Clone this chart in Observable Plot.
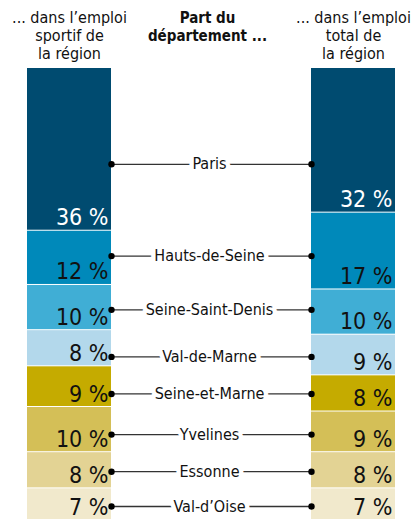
<!DOCTYPE html>
<html><head><meta charset="utf-8">
<script src="https://cdn.jsdelivr.net/npm/d3@7"></script>
<script src="https://cdn.jsdelivr.net/npm/@observablehq/plot@0.6"></script>
<style>html,body{margin:0;padding:0;background:#fff}#chart svg{display:block}</style>
</head><body><div id="chart"></div>
<script>
const departements = ["Paris","Hauts-de-Seine","Seine-Saint-Denis","Val-de-Marne","Seine-et-Marne","Yvelines","Essonne","Val-d’Oise"];
const emploiSportif = [36,12,10,8,9,10,8,7];
const emploiTotal = [32,17,10,9,8,9,8,7];
// position of each department label, in % of the stacked height
const labelPosition = [21.2,41.5,53.4,63.8,72,81,89.2,96.9];
const colonnes = ["sportif","total"];
const enTetes = ["... dans l’emploi\nsportif de\nla région", "... dans l’emploi\ntotal de\nla région"];
const titreCentre = "Part du\ndépartement ...";
const couleurs = ["#004b70","#0089ba","#40aed5","#b3d8eb","#c5ab00","#d4bf57","#e3d394","#f1e9cc"];

const rows = [];
[["sportif", emploiSportif], ["total", emploiTotal]].forEach(([col, vals]) => {
  let cum = 0;
  vals.forEach((v, i) => {
    rows.push({col, dept: departements[i], value: v, y1: cum, y2: cum + v});
    cum += v;
  });
});
const labels = departements.map((d, i) => ({dept: d, pos: labelPosition[i]}));

const font = "'Liberation Sans Narrow','Arial Narrow','DejaVu Sans Condensed',sans-serif";

const chart = Plot.plot({
  width: 414,
  height: 520,
  margin: 0,
  style: {fontFamily: font, background: "white"},
  x: {type: "band", domain: colonnes, range: [26, 395], paddingInner: 0.70526, paddingOuter: 0, axis: null},
  y: {domain: [0, 100], range: [68, 520], axis: null},
  color: {domain: departements, range: couleurs},
  marks: [
    Plot.barY(rows, {x: "col", y1: "y1", y2: "y2", fill: "dept", insetBottom: 1}),
    Plot.text(rows, {x: "col", y: "y2", text: d => `${d.value} %`, textAnchor: "end", lineAnchor: "bottom",
      dx: 39, dy: -6, fontSize: 23, fill: d => d.dept === "Paris" ? "white" : "#111"}),
    Plot.ruleY(labels, {y: "pos", x1: () => "sportif", x2: () => "total", insetLeft: 84, insetRight: 84,
      stroke: "#333", strokeWidth: 1.3}),
    Plot.dot(labels, {x: () => "sportif", y: "pos", dx: 42, r: 3.2, fill: "#000"}),
    Plot.dot(labels, {x: () => "total", y: "pos", dx: -42, r: 3.2, fill: "#000"}),
    Plot.text(labels, {y: "pos", text: "dept", frameAnchor: "middle", dx: 2, fontSize: 16,
      fill: "#111", stroke: "white", strokeWidth: 9}),
    Plot.text(colonnes, {x: d => d, text: (d, i) => enTetes[i], frameAnchor: "top", lineAnchor: "top",
      dy: 10, fontSize: 16, lineHeight: 1.125, fill: "#111"}),
    Plot.text([titreCentre], {text: d => d, frameAnchor: "top", lineAnchor: "top", dy: 10,
      fontSize: 15, lineHeight: 1.2, fontWeight: "bold", fill: "#111"})
  ]
});
document.getElementById("chart").append(chart);
</script>
</body></html>
